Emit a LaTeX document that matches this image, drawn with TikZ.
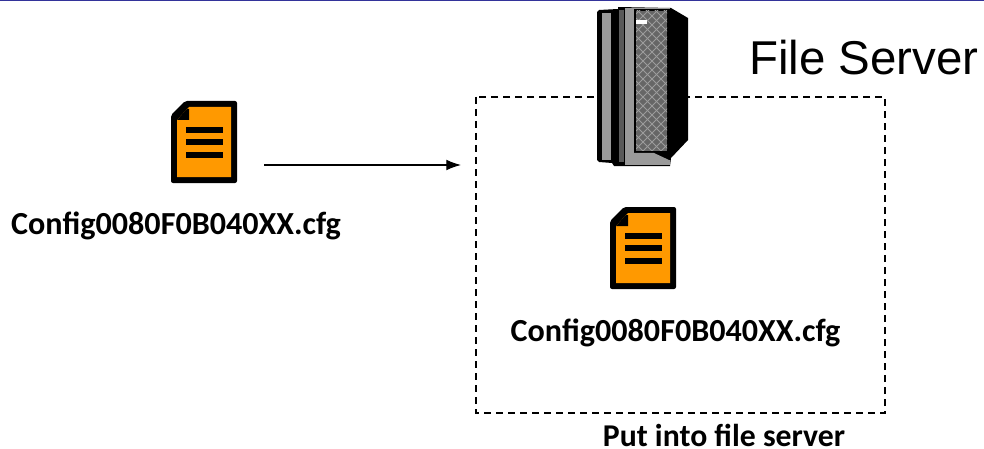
\documentclass[tikz,border=0pt]{standalone}
\usepackage{fontspec}
\setmainfont{Carlito}
\newfontfamily\arialf{Liberation Sans}
\usetikzlibrary{arrows.meta}
\definecolor{docorange}{HTML}{FF9900}
\definecolor{topbar}{HTML}{33339A}
\definecolor{srvgrey}{HTML}{9A9A9A}
\definecolor{srvdark}{HTML}{5A5A5A}
\definecolor{srvmesh}{HTML}{666666}
\tikzset{
  x=0.75pt,y=-0.75pt,
  cfglabel/.style={font=\bfseries\fontsize{24.1pt}{26pt}\selectfont,inner sep=0pt,anchor=center},
  docicon/.pic={
    \fill[black,rounded corners=1.5pt] (0,14)--(14,0)--(66,0)--(66,82)--(0,82)--cycle;
    \fill[docorange] (6,19)--(18,6)--(60,6)--(60,76)--(6,76)--cycle;
    \fill[black] (6,19)--(16,8)--(18,8)--(18,19)--cycle;
    \fill[black] (15,26) rectangle (52,32);
    \fill[black] (15,38) rectangle (52,44);
    \fill[black] (15,51) rectangle (52,57);
  }
}
\begin{document}
\begin{tikzpicture}
\useasboundingbox (0,0) rectangle (984,449);
\fill[white] (0,0) rectangle (984,449);
\fill[topbar] (0,0) rectangle (984,1.3);
% dashed box
\draw[black,line width=0.9pt,dash pattern=on 5.5pt off 3.5pt] (476,97) rectangle (885,413);
% server
\fill[black] (599,10)--(618,9)--(618,7)--(671,8)--(688,18)--(688,140)--(671,158)--(670,166)--(614,166)--(612,163)--(599,162)--(597,160)--(597,12)--cycle;
\fill[srvgrey] (601.5,13) rectangle (610.5,160);
\fill[srvdark] (618.5,10) rectangle (624,162);
\fill[srvgrey] (625,9) rectangle (634,165);
\fill[srvgrey] (625,160) rectangle (670,165);
\fill[black] (634,9) rectangle (670,155);
\fill[srvgrey] (625,8) rectangle (670,9.5);
\fill[srvmesh] (636,11) rectangle (667,151);
\begin{scope}
\clip (636,11) rectangle (667,151);
\foreach \k in {-14,...,16}{
  \draw[srvdark!60,line width=0.6pt] (636,{\k*9}) -- (668,{\k*9+32});
  \draw[srvdark!60,line width=0.6pt] (636,{\k*9+32}) -- (668,{\k*9});
}
\end{scope}
\fill[white] (636,20.5) rectangle (647,24);
\fill[srvgrey] (632,160)--(634,153)--(654,153)--(669,160)--cycle;
% icons
\pic at (171,101) {docicon};
\pic at (610,207) {docicon};
% texts
\node[font=\arialf\fontsize{35.6pt}{38pt}\selectfont,inner sep=0pt] (title) at (864,58) {File Server};
\node[cfglabel] (labA) at (176,226) {Config0080F0B040XX.cfg};
\node[cfglabel] (labB) at (675.5,333) {Config0080F0B040XX.cfg};
\node[font=\bfseries\fontsize{23.8pt}{26pt}\selectfont,inner sep=0pt] (put) at (724,435) {Put into file server};
% arrow
\coordinate (arrA) at (264,165);
\coordinate (arrB) at (461,165);
\draw[black,line width=0.8pt,-{Latex[length=11pt,width=8pt]}] (arrA) -- (arrB);
\end{tikzpicture}
\end{document}
